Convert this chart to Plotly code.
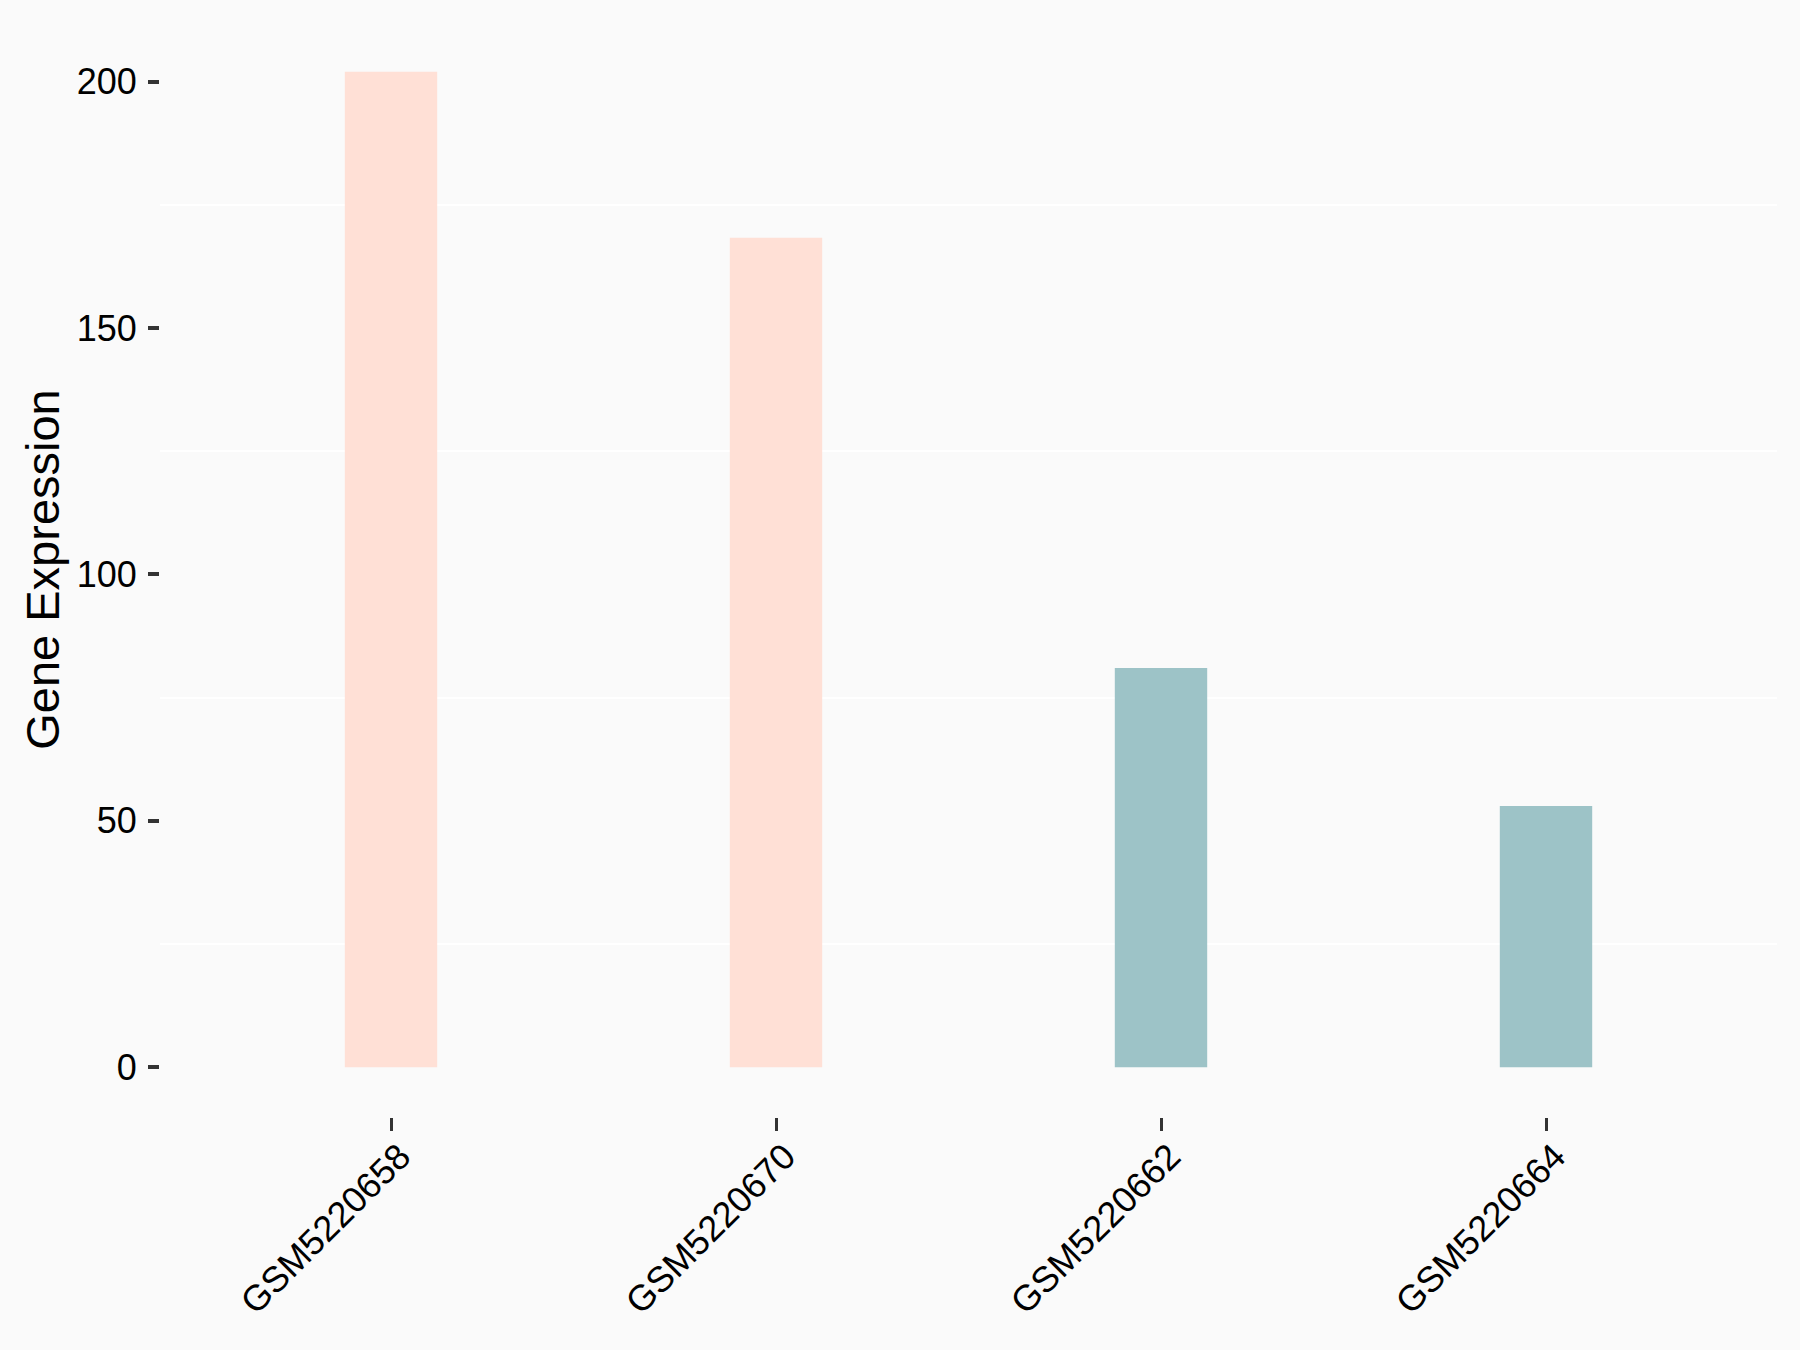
import plotly.graph_objects as go

samples = ["GSM5220658", "GSM5220670", "GSM5220662", "GSM5220664"]
values = [202.0, 168.3, 81.0, 53.0]
groups = ["A", "A", "B", "B"]
group_colors = {"A": "#FFE0D6", "B": "#9DC3C7"}
y_ticks = [0, 50, 100, 150, 200]

fig = go.Figure()
fig.add_trace(go.Bar(
    x=samples, y=values,
    marker=dict(color=[group_colors[g] for g in groups], line=dict(width=0)),
    width=0.24, showlegend=False,
))

fig.update_layout(
    width=1800, height=1350,
    paper_bgcolor="#FAFAFA", plot_bgcolor="#FAFAFA",
    margin=dict(l=160, r=23, t=22, b=233),
    font=dict(family="Liberation Sans, Arial", color="#000000"),
    xaxis=dict(
        range=[-0.6, 3.6], showgrid=False, zeroline=False, showline=False,
        ticks="outside", ticklen=13, tickwidth=3, tickcolor="#333333",
        tickangle=-45, tickfont=dict(size=36, color="#000000"),
        ticklabelstandoff=-10, ticklabelshift=9,
    ),
    yaxis=dict(
        range=[-10.1, 212.1], tickvals=y_ticks, showgrid=False,
        zeroline=False, showline=False,
        ticks="outside", ticklen=11, tickwidth=4, tickcolor="#333333",
        tickfont=dict(size=36, color="#000000"), ticklabelstandoff=4,
        minor=dict(dtick=50, tick0=25, showgrid=True, gridcolor="#FFFFFF", gridwidth=2, ticks=""),
        title=dict(text="Gene Expression", font=dict(size=47, color="#000000"), standoff=2),
    ),
)

fig.write_html(
    "out.html",
    config={"displayModeBar": False},
    post_script="document.body.style.margin='0';document.body.style.padding='0';document.body.style.background='#FAFAFA';",
)
